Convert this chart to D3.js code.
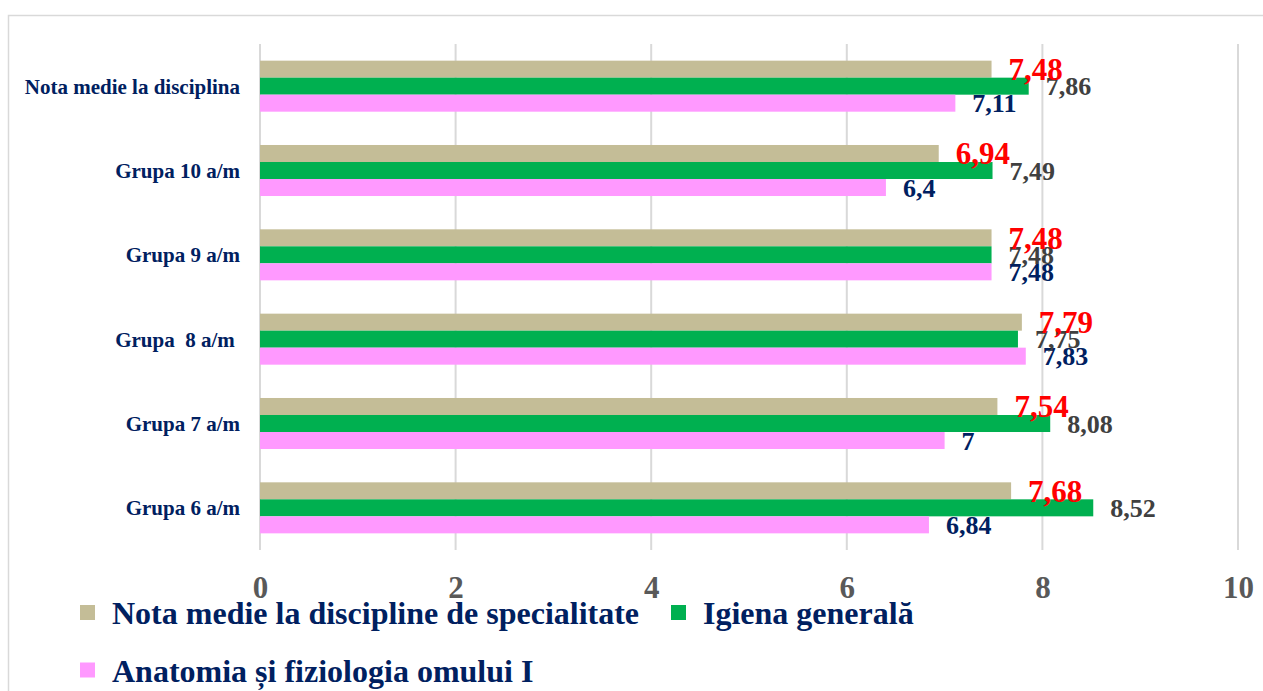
<!DOCTYPE html>
<html>
<head>
<meta charset="utf-8">
<script src="https://cdn.jsdelivr.net/npm/d3@7"></script>
<style>
  body { margin: 0; background: #fff; }
  text { font-family: "Liberation Serif", "Times New Roman", serif; font-weight: bold; }
</style>
</head>
<body>
<svg id="chart" width="1263" height="691"></svg>
<script>
// Data
const categories = ["Nota medie la disciplina", "Grupa 10 a/m", "Grupa 9 a/m", "Grupa  8 a/m ", "Grupa 7 a/m", "Grupa 6 a/m"];
const seriesNames = ["Nota medie la discipline de specialitate", "Igiena generală", "Anatomia și fiziologia omului I"];
const specialitate = [7.48, 6.94, 7.48, 7.79, 7.54, 7.68];
const igiena = [7.86, 7.49, 7.48, 7.75, 8.08, 8.52];
const anatomia = [7.11, 6.4, 7.48, 7.83, 7, 6.84];
const xTicks = [0, 2, 4, 6, 8, 10];

const colors = ["#c4bd97", "#00b050", "#ff99ff"];
const labelColors = ["#ff0000", "#404040", "#002060"];
const labelSizes = [31, 26, 26];

const svg = d3.select("#chart");

// outer frame
svg.append("rect")
  .attr("x", 8.5).attr("y", 15.5)
  .attr("width", 1280).attr("height", 700)
  .attr("fill", "none").attr("stroke", "#d9d9d9").attr("stroke-width", 1.5);

const plotLeft = 260, plotRight = 1238, plotTop = 44, plotBottom = 550;

const x = d3.scaleLinear().domain([0, 10]).range([plotLeft, plotRight]);
const y = d3.scaleBand().domain(categories).range([plotTop, plotBottom]).paddingInner(0.395).paddingOuter(0.1975);
const y1 = d3.scaleBand().domain(seriesNames).range([0, y.bandwidth()]);

// gridlines
svg.append("g").selectAll("line")
  .data(xTicks)
  .enter().append("line")
  .attr("x1", d => x(d)).attr("x2", d => x(d))
  .attr("y1", plotTop).attr("y2", plotBottom)
  .attr("stroke", "#d9d9d9").attr("stroke-width", 2);

// x axis labels
const xAxis = svg.append("g")
  .attr("transform", "translate(0," + 576 + ")")
  .call(d3.axisBottom(x).tickValues(xTicks).tickSize(0).tickPadding(0).tickFormat(d3.format("d")));
xAxis.select(".domain").remove();
xAxis.selectAll("text")
  .attr("fill", "#595959")
  .style("font-size", "31px")
  .style("font-family", "Liberation Serif, serif")
  .style("font-weight", "bold");

// category labels
svg.append("g").selectAll("text")
  .data(categories)
  .enter().append("text")
  .attr("x", 240)
  .attr("y", d => y(d) + y.bandwidth() / 2)
  .attr("dy", "0.35em")
  .attr("text-anchor", "end")
  .attr("fill", "#002060")
  .style("font-size", "21px")
  .style("white-space", "pre")
  .text(d => d);

// bars
const rows = categories.map((c, i) => ({
  cat: c,
  vals: [specialitate[i], igiena[i], anatomia[i]]
}));

const groups = svg.append("g").selectAll("g")
  .data(rows)
  .enter().append("g")
  .attr("transform", d => "translate(0," + y(d.cat) + ")");

groups.selectAll("rect")
  .data(d => d.vals.map((v, k) => ({ k: k, v: v })))
  .enter().append("rect")
  .attr("x", x(0))
  .attr("y", d => y1(seriesNames[d.k]))
  .attr("width", d => x(d.v) - x(0))
  .attr("height", y1.bandwidth())
  .attr("fill", d => colors[d.k]);

// value labels (drawn after bars so they sit on top)
const fmt = v => String(v).replace(".", ",");
const labelGroups = svg.append("g").selectAll("g")
  .data(rows)
  .enter().append("g")
  .attr("transform", d => "translate(0," + y(d.cat) + ")");
labelGroups.selectAll("text")
  .data(d => d.vals.map((v, k) => ({ k: k, v: v })).reverse())
  .enter().append("text")
  .attr("x", d => x(d.v) + 17)
  .attr("y", d => y1(seriesNames[d.k]) + y1.bandwidth() / 2)
  .attr("dy", "0.35em")
  .attr("fill", d => labelColors[d.k])
  .style("font-size", d => labelSizes[d.k] + "px")
  .text(d => fmt(d.v));

// legend
const legendPos = [
  { sx: 80, tx: 112, y: 613 },
  { sx: 671, tx: 703, y: 613 },
  { sx: 80, tx: 112, y: 670.5 }
];
const legend = svg.append("g").selectAll("g")
  .data(seriesNames)
  .enter().append("g");
legend.append("rect")
  .attr("x", (d, i) => legendPos[i].sx)
  .attr("y", (d, i) => legendPos[i].y - 8)
  .attr("width", 15).attr("height", 15)
  .attr("fill", (d, i) => colors[i]);
legend.append("text")
  .attr("x", (d, i) => legendPos[i].tx)
  .attr("y", (d, i) => legendPos[i].y)
  .attr("dy", "0.35em")
  .attr("fill", "#002060")
  .style("font-size", "32px")
  .text(d => d);
</script>
</body>
</html>
